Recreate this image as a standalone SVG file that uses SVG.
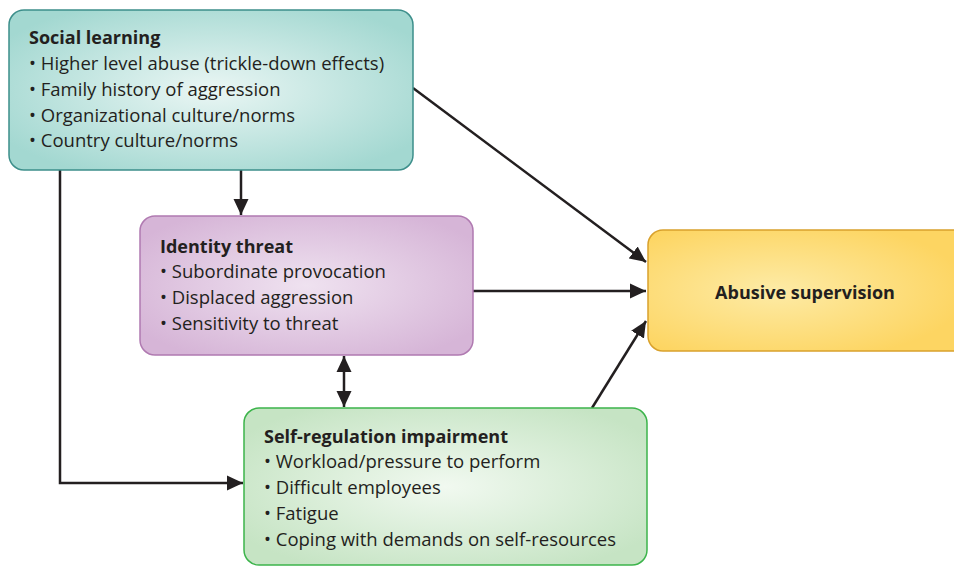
<svg xmlns="http://www.w3.org/2000/svg" width="954" height="567" viewBox="0 0 954 567">
<style>
text{font-family:"Open Sans","Noto Sans",sans-serif;font-size:18.5px;fill:#231f20}
.t{font-weight:bold;font-size:18px}
.c{stroke:#231f20;stroke-width:2.5;fill:none}
</style>
<defs>
<radialGradient id="gT" cx="50%" cy="50%" r="60%"><stop offset="0" stop-color="#eaf6f4"/><stop offset="1" stop-color="#a3d8d1"/></radialGradient>
<radialGradient id="gP" cx="50%" cy="50%" r="60%"><stop offset="0" stop-color="#efe2f0"/><stop offset="1" stop-color="#d6b5d7"/></radialGradient>
<radialGradient id="gG" cx="50%" cy="50%" r="60%"><stop offset="0" stop-color="#f1f9f0"/><stop offset="1" stop-color="#c6e4c4"/></radialGradient>
<radialGradient id="gY" cx="40%" cy="50%" r="60%"><stop offset="0" stop-color="#fdeba6"/><stop offset="1" stop-color="#fdd562"/></radialGradient>
<marker id="ah" viewBox="0 0 16 16" refX="16" refY="8" markerWidth="16" markerHeight="16" markerUnits="userSpaceOnUse" orient="auto-start-reverse"><path d="M0,0.5L16,8L0,15.5Z" fill="#231f20"/></marker>
</defs>
<g id="connectors">
<path class="c" d="M60,170V483H243" marker-end="url(#ah)"/>
<path class="c" d="M241,170V215" marker-end="url(#ah)"/>
<path class="c" d="M413,88L646,262" marker-end="url(#ah)"/>
<path class="c" d="M473,291H646" marker-end="url(#ah)"/>
<path class="c" d="M592,408L646,321" marker-end="url(#ah)"/>
<path class="c" d="M344,356V407" marker-start="url(#ah)" marker-end="url(#ah)"/>
</g>
<g id="social-learning">
<rect x="9" y="10" width="404" height="160" rx="15" fill="url(#gT)" stroke="#3d8f8b" stroke-width="1.5"/>
<text class="t" x="29" y="44">Social learning</text>
<text x="29" y="70">• Higher level abuse (trickle-down effects)</text>
<text x="29" y="96">• Family history of aggression</text>
<text x="29" y="122">• Organizational culture/norms</text>
<text x="29" y="147">• Country culture/norms</text>
</g>
<g id="identity-threat">
<rect x="140" y="216" width="333" height="139" rx="15" fill="url(#gP)" stroke="#b07ab1" stroke-width="1.5"/>
<text class="t" x="160" y="253">Identity threat</text>
<text x="160" y="278">• Subordinate provocation</text>
<text x="160" y="304">• Displaced aggression</text>
<text x="160" y="330">• Sensitivity to threat</text>
</g>
<g id="self-regulation">
<rect x="244" y="408" width="403" height="157" rx="15" fill="url(#gG)" stroke="#3cb44b" stroke-width="1.5"/>
<text class="t" x="264" y="443">Self-regulation impairment</text>
<text x="264" y="468">• Workload/pressure to perform</text>
<text x="264" y="494">• Difficult employees</text>
<text x="264" y="520">• Fatigue</text>
<text x="264" y="546">• Coping with demands on self-resources</text>
</g>
<g id="abusive-supervision">
<rect x="648" y="230" width="320" height="121" rx="15" fill="url(#gY)" stroke="#d9a12c" stroke-width="1.5"/>
<text class="t" x="805" y="299" text-anchor="middle">Abusive supervision</text>
</g>
</svg>
